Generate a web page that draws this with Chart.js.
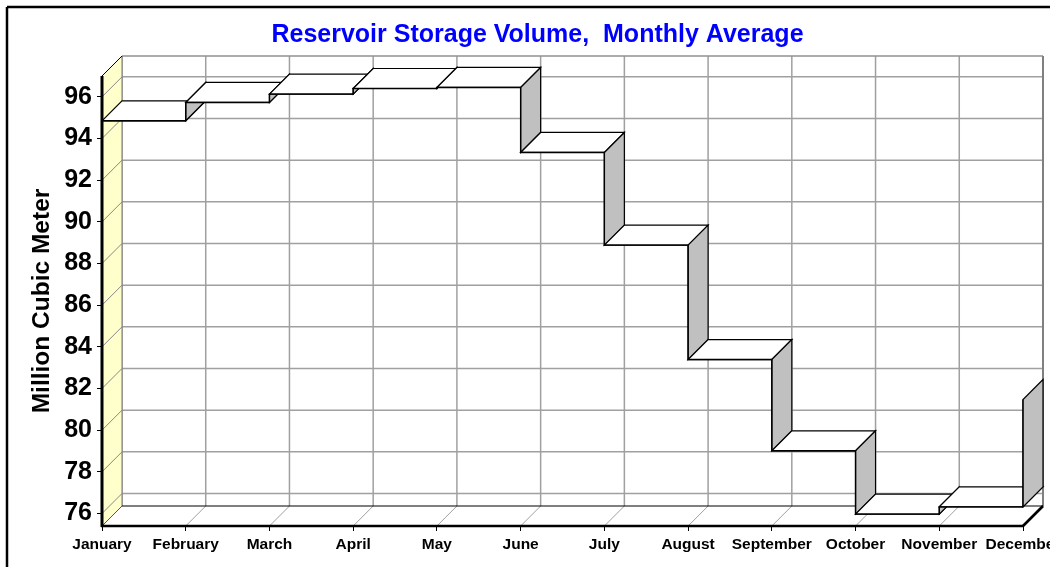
<!DOCTYPE html>
<html>
<head>
<meta charset="utf-8">
<script src="https://cdn.jsdelivr.net/npm/chart.js@4.4.1/dist/chart.umd.min.js"></script>
<style>
html,body{margin:0;padding:0;overflow:hidden;background:#fff;width:1050px;height:567px}
#wrap{position:absolute;left:0;top:0;width:1076px;height:567px}
</style>
</head>
<body>
<div id="wrap"><canvas id="c" width="1076" height="567"></canvas></div>
<script>
// ---- data ----
const months = ['January','February','March','April','May','June','July','August','September','October','November','December'];
const storage = [94.85, 95.73, 96.13, 96.40, 96.45, 93.33, 88.88, 83.39, 79.01, 75.97, 76.32, 81.47];
const yTickValues = [76, 78, 80, 82, 84, 86, 88, 90, 92, 94, 96];
const yMin = 75.4, yMax = 97;
const chartTitle = 'Reservoir Storage Volume,  Monthly Average';
const yTitle = 'Million Cubic Meter';

// ---- style ----
const DX = 20, DY = -20;
const GRID = '#a0a0a0';

function line(ctx, x1, y1, x2, y2, color, w) {
  ctx.beginPath(); ctx.strokeStyle = color; ctx.lineWidth = w;
  ctx.moveTo(x1, y1); ctx.lineTo(x2, y2); ctx.stroke();
}
function quad(ctx, p, fill, stroke, w) {
  ctx.beginPath(); ctx.moveTo(p[0][0], p[0][1]);
  for (let i = 1; i < p.length; i++) ctx.lineTo(p[i][0], p[i][1]);
  ctx.closePath();
  if (fill) { ctx.fillStyle = fill; ctx.fill(); }
  if (stroke) { ctx.strokeStyle = stroke; ctx.lineWidth = w; ctx.lineJoin = 'miter'; ctx.stroke(); }
}

const threeD = {
  id: 'threeD',
  beforeDraw(chart) {
    const ctx = chart.ctx;
    const {left, right, top, bottom} = chart.chartArea;
    const xs = chart.scales.x, ys = chart.scales.y;
    ctx.save();
    ctx.fillStyle = '#fff';
    ctx.fillRect(0, 0, chart.width, chart.height);
    // outer frame
    line(ctx, 7, 7, chart.width, 7, '#000', 2.5);
    line(ctx, 7, 7, 7, chart.height, '#000', 2.5);
    // back wall grid
    yTickValues.forEach(v => {
      const y = ys.getPixelForValue(v) + DY;
      line(ctx, left + DX, y, right + DX, y, GRID, 1.5);
    });
    months.forEach((m, i) => {
      const x = xs.getPixelForValue(i) + DX;
      line(ctx, x, top + DY, x, bottom + DY, GRID, 1.5);
    });
    // back wall outline top/right
    line(ctx, left + DX, top + DY, right + DX, top + DY, '#909090', 1.5);
    line(ctx, right + DX, top + DY, right + DX, bottom + DY, '#808080', 2);
    // left wall
    quad(ctx, [[left, top], [left + DX, top + DY], [left + DX, bottom + DY], [left, bottom]], '#ffffcc');
    yTickValues.forEach(v => {
      const y = ys.getPixelForValue(v);
      line(ctx, left, y, left + DX, y + DY, '#888', 1);
    });
    line(ctx, left + DX, top + DY, left + DX, bottom + DY, '#777', 1);
    line(ctx, left, top, left + DX, top + DY, '#000', 1);
    // floor
    quad(ctx, [[left, bottom], [right, bottom], [right + DX, bottom + DY], [left + DX, bottom + DY]], '#fff');
    months.forEach((m, i) => {
      const x = xs.getPixelForValue(i);
      line(ctx, x, bottom, x + DX, bottom + DY, GRID, 1);
    });
    line(ctx, left + DX, bottom + DY, right + DX, bottom + DY, '#000', 1.2);
    line(ctx, left, bottom, left + DX, bottom + DY, '#555', 1);
    ctx.restore();
  },
  afterDraw(chart) {
    const ctx = chart.ctx;
    const {left, right, top, bottom} = chart.chartArea;
    ctx.save();
    // front edges (drawn last so they stay crisp)
    line(ctx, left, top, left, bottom + 1, '#000', 3);
    line(ctx, left - 1, bottom, right, bottom, '#000', 2.6);
    line(ctx, right, bottom, right + DX, bottom + DY, '#000', 2.6);
    ctx.font = 'bold 25px "Liberation Sans", Arial, sans-serif';
    ctx.fillStyle = '#0000ff';
    ctx.textAlign = 'center';
    ctx.textBaseline = 'alphabetic';
    ctx.fillText(chartTitle, 537.5, 42);
    ctx.restore();
  },
  beforeDatasetsDraw(chart) {
    const ctx = chart.ctx;
    const pts = chart.getDatasetMeta(0).data;
    ctx.save();
    for (let i = 0; i < pts.length; i++) {
      if (i > 0) {
        const x = pts[i].x, y0 = pts[i - 1].y, y1 = pts[i].y;
        quad(ctx, [[x, y0], [x, y1], [x + DX, y1 + DY], [x + DX, y0 + DY]], '#c0c0c0', '#000', 1.2);
      }
      if (i < pts.length - 1) {
        const x0 = pts[i].x, x1 = pts[i + 1].x, y = pts[i].y;
        quad(ctx, [[x0, y], [x1, y], [x1 + DX, y + DY], [x0 + DX, y + DY]], '#fff', '#000', 1.2);
      }
    }
    ctx.restore();
  }
};

const tickGrid = {display: true, color: 'rgba(0,0,0,0)', tickColor: '#000', drawTicks: true, tickLength: 5, tickWidth: 1, offset: false};

new Chart(document.getElementById('c'), {
  type: 'line',
  data: {
    labels: months,
    datasets: [{
      data: storage,
      stepped: true,
      borderColor: '#000',
      borderWidth: 1.4,
      pointRadius: 0,
      fill: false
    }]
  },
  options: {
    responsive: false,
    animation: false,
    devicePixelRatio: 1,
    layout: {padding: {left: 8, top: 76, right: 53, bottom: 0}},
    plugins: {legend: {display: false}, tooltip: {enabled: false}, title: {display: false}},
    scales: {
      x: {
        type: 'category',
        offset: false,
        grid: tickGrid,
        border: {display: false},
        ticks: {
          autoSkip: false, maxRotation: 0, minRotation: 0, padding: 4, color: '#000',
          font: {family: "'Liberation Sans', Arial, sans-serif", size: 15.5, weight: 'bold'}
        },
        afterFit(s) { s.height = 41; }
      },
      y: {
        type: 'linear',
        min: yMin, max: yMax,
        grid: tickGrid,
        border: {display: false},
        afterBuildTicks(s) { s.ticks = yTickValues.map(v => ({value: v})); },
        ticks: {
          padding: 5, color: '#000',
          font: {family: "'Liberation Sans', Arial, sans-serif", size: 25, weight: 'bold'}
        },
        title: {
          display: true, text: yTitle, color: '#000',
          padding: {top: 20, bottom: 0},
          font: {family: "'Liberation Sans', Arial, sans-serif", size: 24.5, weight: 'bold'}
        },
        afterFit(s) { s.width = 94; }
      }
    }
  },
  plugins: [threeD]
});
</script>
</body>
</html>
